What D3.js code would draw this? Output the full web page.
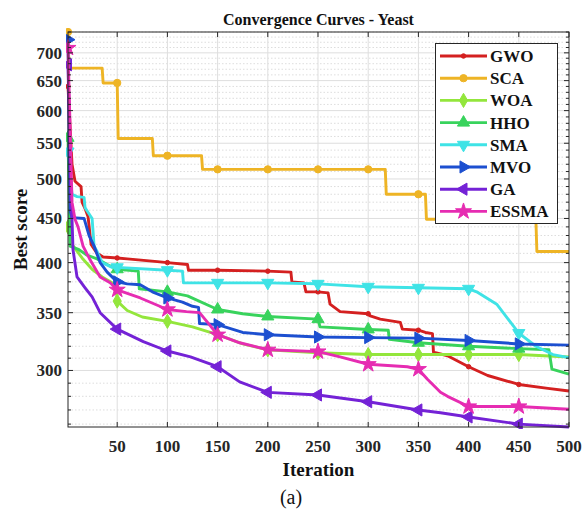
<!DOCTYPE html>
<html>
<head>
<meta charset="utf-8">
<script src="https://cdn.jsdelivr.net/npm/d3@7"></script>
<style>
  html, body { margin: 0; padding: 0; background: #fff; }
  svg { display: block; }
</style>
</head>
<body>
<svg id="chart" width="584" height="514" font-family="'Liberation Serif', 'DejaVu Serif', serif"></svg>
<script>
// Best score per iteration for each optimiser: [iteration, score]
const gwo = [[1,640],[5,520],[8,497],[14,490],[15,470],[18,462],[21,452],[24,420],[30,410],[36,406],[50,405],[60,404],[90,401],[100,400],[120,398],[121,392],[150,392],[200,391],[223,390],[224,380],[236,379],[238,370],[250,370],[260,369],[262,358],[272,351],[300,349],[302,347],[312,344],[332,341],[334,335],[350,334],[357,332],[364,331],[365,315],[379,312],[400,303],[419,296],[450,289],[479,286],[500,284]];
const sca = [[1,740],[2,672],[35,672],[36,646],[50,646],[51,557],[85,557],[86,532],[100,532],[134,532],[135,513],[150,513],[200,513],[250,513],[300,513],[317,513],[318,480],[350,480],[357,480],[358,449],[400,449],[450,449],[467,449],[468,412],[500,412]];
const woa = [[1,440],[5,420],[15,405],[25,393],[35,385],[45,379],[49,377],[50,361],[60,352],[75,346],[100,342],[125,337],[150,330],[175,322],[200,317],[250,314.5],[300,313],[350,313],[400,313],[450,313],[500,311]];
const hho = [[1,558],[3,418],[12,414],[20,408],[30,404],[40,398],[50,393],[71,391],[72,373],[100,370],[120,366],[150,353],[175,349],[200,346.5],[250,344],[252,337],[300,334.7],[320,334],[321,326],[350,323],[400,320],[450,318],[480,317],[483,301],[500,297]];
const sma = [[1,538],[5,480],[10,477],[17,476],[18,463],[25,450],[27,418],[30,412],[35,400],[45,395],[50,395],[100,392],[115,391],[116,379],[150,379],[200,379],[250,378],[300,375],[350,374],[400,373],[408,370],[428,358],[450,331.5],[467,320],[484,313],[500,310.5]];
const mvo = [[1,725],[3,460],[5,451],[17,450],[22,430],[27,418],[33,400],[40,390],[50,380],[60,378],[73,377],[85,370],[100,364],[115,360],[125,356],[131,355],[132,340],[150,339],[175,332],[200,330],[250,328],[300,327.5],[350,327],[400,325],[450,322],[500,321]];
const ga = [[1,678],[4,470],[5,449],[6,414],[10,385],[18,374],[25,365],[33,350],[50,335],[76,324],[100,316],[123,311],[150,303],[172,291],[200,283],[250,281],[300,276],[350,270],[372,268],[400,265],[450,260],[500,258]];
const essma = [[1,709],[5,470],[8,449],[11,440],[16,418],[23,403],[33,385],[43,379],[50,372],[73,364],[100,353],[119,351],[132,350],[140,341],[150,330],[172,323],[200,317],[250,315.5],[272,311],[300,305],[339,303],[350,301],[359,293],[372,283],[379,280],[400,272.5],[450,272.5],[500,270.5]];

const names = ["GWO", "SCA", "WOA", "HHO", "SMA", "MVO", "GA", "ESSMA"];
const seriesData = [gwo, sca, woa, hho, sma, mvo, ga, essma];
const colors = ["#d42020", "#eeb425", "#93e63c", "#38d35c", "#3fe3e6", "#1c4fd0", "#7422d6", "#e62cb2"];
const markers = ["dot", "circle", "diamond", "up", "down", "right", "left", "star"];

const xTicks = [50, 100, 150, 200, 250, 300, 350, 400, 450, 500];
const yTicks = [300, 350, 400, 450, 500, 550, 600, 650, 700];
const yMinor = d3.range(260, 741, 10).filter(v => v % 50 !== 0);
const markerIters = [1, 50, 100, 150, 200, 250, 300, 350, 400, 450];

const svg = d3.select("#chart");
const L = 68, R = 569, T = 32, B = 427;

const x = d3.scaleLinear().domain([1, 500]).range([L, R]);
const y = d3.scaleLog().domain([258, 740]).range([B, T]);

// grid
const grid = svg.append("g");
grid.selectAll(".ymin").data(yMinor).join("line")
  .attr("x1", L).attr("x2", R)
  .attr("y1", d => y(d)).attr("y2", d => y(d))
  .attr("stroke", "#d4d4d4").attr("stroke-width", 0.8)
  .attr("stroke-dasharray", "1.5,2");
grid.selectAll(".ymaj").data(yTicks).join("line")
  .attr("x1", L).attr("x2", R)
  .attr("y1", d => y(d)).attr("y2", d => y(d))
  .attr("stroke", "#dedede").attr("stroke-width", 1);
grid.selectAll(".xmaj").data(xTicks.slice(0, -1)).join("line")
  .attr("y1", T).attr("y2", B)
  .attr("x1", d => x(d)).attr("x2", d => x(d))
  .attr("stroke", "#dedede").attr("stroke-width", 1);

// curves
const line = d3.line().x(d => x(d[0])).y(d => y(d[1]));
svg.append("clipPath").attr("id", "plotclip")
  .append("rect").attr("x", L - 2).attr("y", T - 4).attr("width", R - L + 4).attr("height", B - T + 6);

function symbolFor(kind) {
  const s = {
    dot: [d3.symbolCircle, 16, 0],
    circle: [d3.symbolCircle, 42, 0],
    diamond: [d3.symbolDiamond, 58, 0],
    up: [d3.symbolTriangle, 64, 0],
    down: [d3.symbolTriangle, 64, 180],
    right: [d3.symbolTriangle, 64, 90],
    left: [d3.symbolTriangle, 64, -90],
    star: [d3.symbolStar, 80, 0]
  }[kind];
  return { path: d3.symbol().type(s[0]).size(s[1])(), rot: s[2] };
}

const plot = svg.append("g").attr("clip-path", "url(#plotclip)");
seriesData.forEach((data, i) => {
  const g = plot.append("g");
  g.append("path").datum(data)
    .attr("d", line)
    .attr("fill", "none")
    .attr("stroke", colors[i])
    .attr("stroke-width", 2.9)
    .attr("stroke-linejoin", "round");
  const sym = symbolFor(markers[i]);
  const pts = data.filter(d => markerIters.includes(d[0]));
  g.selectAll("path.m").data(pts).join("path")
    .attr("class", "m")
    .attr("d", sym.path)
    .attr("transform", d => `translate(${x(d[0])},${y(d[1])}) rotate(${sym.rot})`)
    .attr("fill", colors[i])
    .attr("stroke", colors[i])
    .attr("stroke-width", 1);
});

// axes box and ticks
const axisColor = "#262626";
svg.append("rect").attr("x", L).attr("y", T).attr("width", R - L).attr("height", B - T)
  .attr("fill", "none").attr("stroke", axisColor).attr("stroke-width", 1);
const ticks = svg.append("g").attr("stroke", axisColor).attr("stroke-width", 1);
xTicks.forEach(t => {
  ticks.append("line").attr("x1", x(t)).attr("x2", x(t)).attr("y1", B).attr("y2", B - 5);
  ticks.append("line").attr("x1", x(t)).attr("x2", x(t)).attr("y1", T).attr("y2", T + 5);
});
yTicks.forEach(t => {
  ticks.append("line").attr("x1", L).attr("x2", L + 5).attr("y1", y(t)).attr("y2", y(t));
  ticks.append("line").attr("x1", R).attr("x2", R - 5).attr("y1", y(t)).attr("y2", y(t));
});
yMinor.forEach(t => {
  ticks.append("line").attr("x1", L).attr("x2", L + 3).attr("y1", y(t)).attr("y2", y(t));
  ticks.append("line").attr("x1", R).attr("x2", R - 3).attr("y1", y(t)).attr("y2", y(t));
});

// tick labels
svg.append("g").selectAll("text").data(xTicks).join("text")
  .attr("x", d => x(d)).attr("y", 452)
  .attr("text-anchor", "middle")
  .attr("font-size", 17).attr("font-weight", "bold").attr("fill", "#262626")
  .text(d => d);
svg.append("g").selectAll("text").data(yTicks).join("text")
  .attr("x", 62).attr("y", d => y(d) + 6)
  .attr("text-anchor", "end")
  .attr("font-size", 17).attr("font-weight", "bold").attr("fill", "#262626")
  .text(d => d);

// titles
svg.append("text").attr("x", (L + R) / 2).attr("y", 25)
  .attr("text-anchor", "middle").attr("font-size", 16).attr("font-weight", "bold")
  .attr("fill", "#111").text("Convergence Curves - Yeast");
svg.append("text").attr("x", (L + R) / 2).attr("y", 476)
  .attr("text-anchor", "middle").attr("font-size", 19).attr("font-weight", "bold")
  .attr("fill", "#111").text("Iteration");
svg.append("text").attr("transform", `translate(27,${(T + B) / 2}) rotate(-90)`)
  .attr("text-anchor", "middle").attr("font-size", 19).attr("font-weight", "bold")
  .attr("fill", "#111").text("Best score");
svg.append("text").attr("x", 291).attr("y", 504)
  .attr("text-anchor", "middle").attr("font-size", 20)
  .attr("fill", "#111").text("(a)");

// legend
const lg = svg.append("g");
lg.append("rect").attr("x", 435.5).attr("y", 43.5).attr("width", 122).attr("height", 180)
  .attr("fill", "#fff").attr("stroke", axisColor).attr("stroke-width", 1);
names.forEach((n, i) => {
  const cy = 56 + i * 22.2;
  lg.append("line").attr("x1", 440).attr("x2", 487).attr("y1", cy).attr("y2", cy)
    .attr("stroke", colors[i]).attr("stroke-width", 2.9);
  const sym = symbolFor(markers[i]);
  lg.append("path").attr("d", sym.path)
    .attr("transform", `translate(463.5,${cy}) rotate(${sym.rot})`)
    .attr("fill", colors[i]).attr("stroke", colors[i]);
  lg.append("text").attr("x", 490).attr("y", cy + 6)
    .attr("font-size", 17).attr("font-weight", "bold").attr("fill", "#111")
    .text(n);
});
</script>
</body>
</html>
